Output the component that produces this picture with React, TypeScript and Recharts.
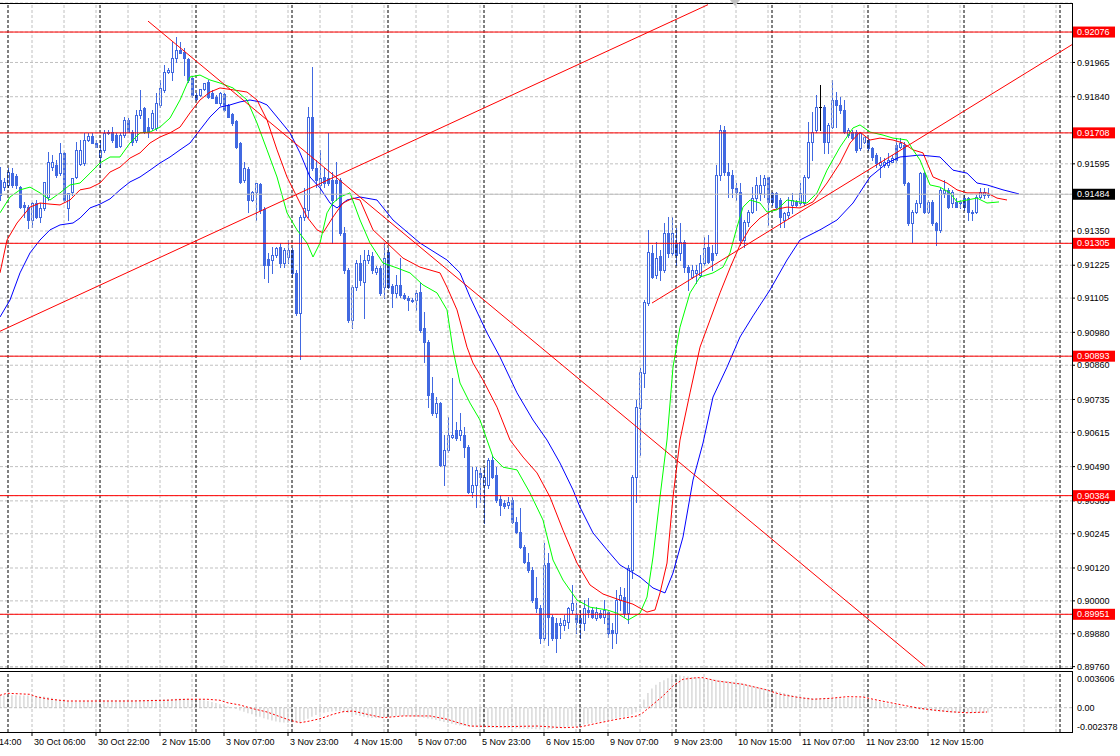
import React from "react";
import { ComposedChart, Bar, Line, XAxis, YAxis, CartesianGrid, ReferenceLine } from "recharts";

// ---------- candle data (USDCHF-like, H1) ----------
const candleOpen = [
0.91536,0.91510,0.91518,0.91561,0.91551,0.91510,0.91445,0.91437,0.91390,0.91452,
0.91401,0.91434,0.91474,0.91583,0.91591,0.91561,0.91635,0.91434,0.91492,0.91547,
0.91594,0.91598,0.91682,0.91697,0.91671,0.91620,0.91646,0.91708,0.91711,0.91700,
0.91660,0.91700,0.91755,0.91711,0.91682,0.91773,0.91799,0.91729,0.91726,0.91726,
0.91810,0.91865,0.91930,0.91930,0.91981,0.92011,0.92003,0.91978,0.91908,0.91846,
0.91846,0.91868,0.91894,0.91854,0.91839,0.91817,0.91850,0.91810,0.91777,0.91751,
0.91671,0.91536,0.91576,0.91463,0.91492,0.91521,0.91430,0.91248,0.91244,0.91262,
0.91291,0.91233,0.91255,0.91281,0.91197,0.91051,0.91401,0.91427,0.91766,0.91580,
0.91518,0.91547,0.91543,0.91536,0.91536,0.91536,0.91343,0.91208,0.91025,0.91145,
0.91233,0.91164,0.91244,0.91259,0.91200,0.91215,0.91145,0.91273,0.91149,0.91124,
0.91153,0.91116,0.91105,0.91098,0.91098,0.91127,0.90996,0.90945,0.90759,0.90686,
0.90722,0.90496,0.90551,0.90598,0.90624,0.90605,0.90605,0.90561,0.90397,0.90423,
0.90467,0.90423,0.90423,0.90514,0.90459,0.90372,0.90357,0.90350,0.90368,0.90288,
0.90251,0.90196,0.90142,0.90113,0.90010,0.89974,0.89864,0.90138,0.89941,0.89919,
0.89912,0.89912,0.89923,0.89967,0.89948,0.89937,0.89919,0.89967,0.89967,0.89937,
0.89955,0.89941,0.89959,0.89894,0.89882,0.90003,0.90014,0.89955,0.90113,0.90452,
0.90704,0.90832,0.91087,0.91270,0.91189,0.91259,0.91208,0.91343,0.91270,0.91306,
0.91270,0.91310,0.91218,0.91182,0.91197,0.91189,0.91233,0.91291,0.91270,0.91270,
0.91554,0.91719,0.91565,0.91554,0.91507,0.91492,0.91317,0.91383,0.91419,0.91470,
0.91489,0.91518,0.91547,0.91489,0.91489,0.91463,0.91390,0.91408,0.91445,0.91456,
0.91452,0.91452,0.91547,0.91675,0.91719,0.91802,0.91802,0.91675,0.91729,0.91828,
0.91810,0.91792,0.91700,0.91711,0.91711,0.91653,0.91675,0.91682,0.91653,0.91627,
0.91591,0.91591,0.91591,0.91602,0.91664,0.91656,0.91664,0.91525,0.91379,0.91419,
0.91452,0.91561,0.91419,0.91456,0.91379,0.91354,0.91489,0.91500,0.91452,0.91456,
0.91452,0.91470,0.91470,0.91419,0.91419,0.91474,0.91481,0.91481];
const candleHigh = [
0.91583,0.91543,0.91580,0.91580,0.91558,0.91514,0.91456,0.91445,0.91456,0.91463,
0.91452,0.91529,0.91638,0.91627,0.91609,0.91671,0.91638,0.91489,0.91543,0.91675,
0.91682,0.91708,0.91708,0.91708,0.91682,0.91682,0.91719,0.91719,0.91729,0.91708,
0.91708,0.91766,0.91762,0.91719,0.91792,0.91865,0.91802,0.91762,0.91792,0.91854,
0.91901,0.91956,0.91945,0.92040,0.92058,0.92040,0.92018,0.91981,0.91912,0.91854,
0.91868,0.91890,0.91901,0.91865,0.91846,0.91857,0.91854,0.91813,0.91781,0.91755,
0.91675,0.91602,0.91583,0.91496,0.91525,0.91525,0.91437,0.91270,0.91291,0.91291,
0.91306,0.91288,0.91317,0.91288,0.91208,0.91408,0.91507,0.91802,0.91948,0.91609,
0.91646,0.91580,0.91708,0.91565,0.91602,0.91543,0.91364,0.91215,0.91153,0.91244,
0.91262,0.91281,0.91281,0.91273,0.91222,0.91222,0.91306,0.91288,0.91156,0.91189,
0.91251,0.91124,0.91113,0.91105,0.91135,0.91160,0.91054,0.90952,0.90817,0.90744,
0.90726,0.90605,0.90671,0.90813,0.90653,0.90686,0.90634,0.90569,0.90488,0.90488,
0.90485,0.90488,0.90521,0.90532,0.90488,0.90386,0.90368,0.90379,0.90379,0.90306,
0.90339,0.90204,0.90175,0.90123,0.90087,0.89985,0.90211,0.90175,0.89948,0.89937,
0.89937,0.89948,0.89977,0.90058,0.89992,0.89967,0.90003,0.90010,0.89974,0.89977,
0.89967,0.90003,0.89967,0.89919,0.90040,0.90050,0.90047,0.90131,0.90459,0.90733,
0.90850,0.91098,0.91354,0.91299,0.91310,0.91281,0.91379,0.91401,0.91401,0.91361,
0.91379,0.91317,0.91226,0.91226,0.91226,0.91262,0.91328,0.91335,0.91299,0.91591,
0.91737,0.91733,0.91598,0.91572,0.91525,0.91525,0.91390,0.91427,0.91510,0.91547,
0.91554,0.91554,0.91547,0.91492,0.91492,0.91470,0.91419,0.91474,0.91489,0.91463,
0.91525,0.91554,0.91748,0.91784,0.91846,0.91883,0.91810,0.91744,0.91901,0.91857,
0.91839,0.91828,0.91726,0.91719,0.91719,0.91711,0.91693,0.91689,0.91656,0.91635,
0.91620,0.91616,0.91635,0.91627,0.91689,0.91689,0.91675,0.91529,0.91427,0.91463,
0.91565,0.91565,0.91463,0.91463,0.91383,0.91507,0.91536,0.91507,0.91500,0.91470,
0.91463,0.91481,0.91474,0.91427,0.91481,0.91507,0.91507,0.91507];
const candleLow = [
0.91463,0.91500,0.91510,0.91510,0.91507,0.91434,0.91401,0.91361,0.91364,0.91397,
0.91383,0.91427,0.91463,0.91572,0.91547,0.91554,0.91456,0.91390,0.91481,0.91543,
0.91591,0.91591,0.91678,0.91671,0.91656,0.91583,0.91638,0.91704,0.91675,0.91656,
0.91656,0.91693,0.91711,0.91664,0.91675,0.91762,0.91708,0.91693,0.91719,0.91719,
0.91802,0.91857,0.91927,0.91901,0.91967,0.92000,0.91919,0.91894,0.91839,0.91828,
0.91843,0.91865,0.91835,0.91835,0.91817,0.91810,0.91788,0.91766,0.91737,0.91653,
0.91525,0.91529,0.91419,0.91459,0.91390,0.91416,0.91178,0.91164,0.91197,0.91255,
0.91218,0.91218,0.91233,0.91182,0.91043,0.90883,0.91390,0.91401,0.91572,0.91510,
0.91489,0.91510,0.91518,0.91306,0.91463,0.91335,0.91197,0.91018,0.90996,0.91135,
0.91153,0.91032,0.91233,0.91197,0.91193,0.91116,0.91105,0.91142,0.91072,0.91109,
0.91109,0.91102,0.91062,0.91091,0.91062,0.90981,0.90872,0.90707,0.90678,0.90671,
0.90492,0.90423,0.90543,0.90594,0.90587,0.90587,0.90525,0.90394,0.90379,0.90342,
0.90361,0.90284,0.90412,0.90448,0.90361,0.90313,0.90339,0.90339,0.90284,0.90248,
0.90193,0.90138,0.90105,0.89996,0.89959,0.89846,0.89857,0.89839,0.89857,0.89813,
0.89864,0.89894,0.89901,0.89955,0.89882,0.89864,0.89894,0.89941,0.89937,0.89930,
0.89937,0.89919,0.89868,0.89828,0.89846,0.89967,0.89941,0.89919,0.90083,0.90361,
0.90532,0.90780,0.91080,0.91178,0.91178,0.91171,0.91200,0.91255,0.91262,0.91226,
0.91244,0.91200,0.91135,0.91178,0.91160,0.91182,0.91226,0.91233,0.91208,0.91262,
0.91536,0.91554,0.91474,0.91474,0.91463,0.91299,0.91291,0.91368,0.91416,0.91427,
0.91463,0.91474,0.91372,0.91445,0.91434,0.91364,0.91364,0.91397,0.91416,0.91441,
0.91445,0.91445,0.91543,0.91609,0.91711,0.91719,0.91635,0.91635,0.91726,0.91729,
0.91781,0.91708,0.91693,0.91686,0.91638,0.91646,0.91671,0.91646,0.91609,0.91583,
0.91547,0.91583,0.91583,0.91602,0.91602,0.91653,0.91518,0.91372,0.91310,0.91416,
0.91437,0.91416,0.91416,0.91372,0.91299,0.91346,0.91474,0.91434,0.91437,0.91437,
0.91434,0.91427,0.91390,0.91390,0.91416,0.91470,0.91470,0.91474];
const candleClose = [
0.91481,0.91529,0.91565,0.91518,0.91518,0.91437,0.91437,0.91390,0.91452,0.91401,
0.91434,0.91529,0.91602,0.91602,0.91554,0.91635,0.91463,0.91489,0.91543,0.91646,
0.91646,0.91682,0.91697,0.91671,0.91656,0.91646,0.91708,0.91711,0.91682,0.91656,
0.91700,0.91755,0.91711,0.91675,0.91773,0.91792,0.91711,0.91711,0.91781,0.91817,
0.91872,0.91930,0.91938,0.91981,0.92011,0.92000,0.91981,0.91901,0.91846,0.91832,
0.91868,0.91890,0.91839,0.91835,0.91817,0.91854,0.91792,0.91766,0.91744,0.91656,
0.91529,0.91580,0.91463,0.91492,0.91525,0.91427,0.91226,0.91226,0.91262,0.91288,
0.91233,0.91281,0.91281,0.91197,0.91051,0.91401,0.91434,0.91766,0.91580,0.91536,
0.91543,0.91525,0.91525,0.91463,0.91525,0.91343,0.91208,0.91025,0.91145,0.91233,
0.91171,0.91244,0.91262,0.91208,0.91215,0.91124,0.91251,0.91145,0.91124,0.91153,
0.91116,0.91105,0.91098,0.91094,0.91124,0.90989,0.90945,0.90751,0.90686,0.90722,
0.90496,0.90551,0.90605,0.90605,0.90594,0.90624,0.90561,0.90397,0.90423,0.90478,
0.90452,0.90452,0.90514,0.90452,0.90368,0.90350,0.90346,0.90361,0.90288,0.90251,
0.90196,0.90142,0.90113,0.90003,0.89974,0.89864,0.90131,0.89941,0.89864,0.89864,
0.89919,0.89930,0.89974,0.89992,0.89923,0.89919,0.89974,0.89959,0.89941,0.89959,
0.89941,0.89967,0.89882,0.89882,0.90003,0.90021,0.89955,0.90120,0.90452,0.90707,
0.90835,0.91091,0.91273,0.91182,0.91251,0.91208,0.91343,0.91270,0.91343,0.91262,
0.91310,0.91218,0.91200,0.91208,0.91208,0.91233,0.91288,0.91237,0.91244,0.91554,
0.91719,0.91565,0.91554,0.91507,0.91492,0.91317,0.91383,0.91419,0.91470,0.91518,
0.91518,0.91543,0.91456,0.91456,0.91437,0.91401,0.91416,0.91419,0.91463,0.91445,
0.91489,0.91547,0.91675,0.91711,0.91802,0.91802,0.91675,0.91737,0.91828,0.91810,
0.91792,0.91711,0.91719,0.91689,0.91646,0.91708,0.91693,0.91653,0.91620,0.91598,
0.91602,0.91602,0.91609,0.91616,0.91609,0.91671,0.91525,0.91379,0.91419,0.91452,
0.91561,0.91419,0.91456,0.91379,0.91354,0.91500,0.91500,0.91437,0.91492,0.91437,
0.91456,0.91437,0.91419,0.91416,0.91474,0.91492,0.91492,0.91484];

// ---------- Alligator (jaw / teeth / lips), shifted forward ----------
const jawIdx = [0,2.5,5,7.5,10,12.5,15,18.25,20,22.5,25,27.5,30,32.5,35,37.5,40,42.5,45,47.5,50,52.5,55,57.5,60,62.5,65,66.75,69.25,72.5,75,77.5,80,82.5,84.25,86.75,90,94.25,98.25,105,111.75,115,117.5,121.75,125,129.25,133.25,136.75,140,143.25,145,148.25,151.75,155,160,163.25,166.25,168.25,170.75,173.25,175.75,178.25,181.75,185,188.25,192.5,196.75,200,205,209.25,213.25,217.5,221.75,225,230,235,238.25,241.75,244.25,246.75,250.75,254.75];
const jawVal = [0.91036,0.91098,0.91197,0.9127,0.91317,0.91354,0.91372,0.91379,0.91397,0.91434,0.91448,0.91467,0.915,0.91529,0.91547,0.91572,0.91598,0.9162,0.91646,0.91671,0.91719,0.91766,0.91802,0.9181,0.91821,0.91828,0.91821,0.9181,0.91766,0.91708,0.91635,0.91547,0.91507,0.91452,0.91434,0.91463,0.91474,0.91463,0.9139,0.91306,0.91244,0.91197,0.91109,0.90978,0.9089,0.90759,0.9066,0.90587,0.90503,0.90405,0.90342,0.90248,0.90186,0.90131,0.90087,0.90047,0.90029,0.90102,0.90233,0.90441,0.90576,0.90744,0.90853,0.90963,0.9104,0.91135,0.91244,0.91317,0.91354,0.9139,0.91452,0.91547,0.91598,0.9162,0.91627,0.9162,0.91572,0.91561,0.91525,0.91518,0.915,0.91485];
const teethIdx = [0,1.75,4.25,7.5,10,12.5,15,17.5,20,22.5,25,27.5,30,32.5,35,37.5,40,42.5,45,47.5,50,52.5,55,58.25,61.75,64.25,66.75,69.25,71.75,74.25,76.75,79.25,80.75,83.25,85.75,88.25,90,93.25,96.75,100.75,105,110,111.75,114.25,116.75,118.25,120.75,124.25,127.5,130.75,134.25,137.5,140.75,144.25,147.5,150.75,155,158.25,161.75,163.75,165,166.75,168.25,170,172.5,175,177.5,180,182.5,185,187.5,190,193.25,196.75,200,203.25,206.75,210,212.5,215,217.5,220,223.25,225.75,228.25,230.75,233.25,236.75,239.25,241.75,246.75,249.25,251.75];
const teethVal = [0.91197,0.91317,0.91379,0.91437,0.91452,0.91448,0.91445,0.91463,0.915,0.91507,0.91525,0.91565,0.91583,0.91616,0.91635,0.91671,0.91693,0.91708,0.91729,0.91781,0.91828,0.91857,0.91872,0.91865,0.91857,0.91828,0.91755,0.91646,0.91547,0.91474,0.91401,0.91354,0.91343,0.91401,0.91452,0.9147,0.91463,0.91354,0.91306,0.91251,0.91218,0.91197,0.91145,0.91062,0.90926,0.90868,0.90806,0.90707,0.90587,0.90525,0.90467,0.90379,0.90258,0.90138,0.90058,0.90025,0.90003,0.89988,0.89959,0.89967,0.90029,0.90138,0.90379,0.90587,0.90759,0.90926,0.91025,0.91124,0.91215,0.91299,0.91361,0.91397,0.91427,0.91437,0.91434,0.91456,0.91525,0.91598,0.91671,0.91711,0.91682,0.91689,0.91682,0.91671,0.91646,0.91635,0.91547,0.91525,0.915,0.91489,0.91489,0.9147,0.91463];
const lipsIdx = [0,2.5,5,7.5,10,12.5,15,17.5,20,22.5,25,27.5,30,32.5,35,37.5,40,42.5,45,47.5,50,52.5,55,58.25,61.75,64.25,66.75,69.25,71.75,74.25,76.75,78.25,80,81.75,83.25,85,87.5,90,92.5,95.75,99.25,102.5,105.75,109.25,111.75,113.25,115,117.5,120,123.25,125.75,129.25,132.5,135.75,138.25,140.75,144.25,147.5,151.75,154.25,157,160,161.75,163.25,165,166.75,168.25,170,172.5,175,178.25,180.75,182.5,184.25,185.75,187.5,190,191.75,194.25,196.75,201.75,204.25,206.75,210,213.25,215,217.5,220.75,223.25,226.75,228.25,230,232.5,235,237.5,239.25,241.75,244.25,246.75,249.75];
const lipsVal = [0.91416,0.91474,0.915,0.9151,0.91489,0.91463,0.91489,0.91518,0.91525,0.91561,0.91598,0.9162,0.9162,0.91671,0.91708,0.91711,0.91729,0.91762,0.91828,0.91912,0.91919,0.91901,0.9189,0.91872,0.91828,0.91744,0.91646,0.91547,0.91416,0.91354,0.91306,0.91255,0.91306,0.91416,0.91452,0.91474,0.91489,0.9139,0.91306,0.91233,0.91215,0.91197,0.91153,0.91124,0.91062,0.90916,0.90795,0.90722,0.9066,0.90525,0.90488,0.90478,0.90394,0.90295,0.90149,0.90076,0.90003,0.89977,0.89967,0.89955,0.8993,0.89955,0.90014,0.9016,0.90379,0.90587,0.90853,0.90999,0.91124,0.91182,0.91197,0.91218,0.9127,0.91364,0.91437,0.91463,0.91452,0.91419,0.91427,0.91463,0.91452,0.91489,0.91572,0.91656,0.91726,0.91737,0.91711,0.917,0.91689,0.91682,0.91646,0.91609,0.91518,0.9151,0.91489,0.91456,0.91463,0.9147,0.91452,0.91456];

// ---------- MACD ----------
const macdHist = [
0.0013,0.00132,0.00134,0.00135,0.00135,0.00134,0.00133,0.00132,0.0013,0.00128,0.00126,0.00122,0.00116,0.00108,0.00095,
0.00084,0.00076,0.00071,0.00069,0.0007,0.00071,0.00072,0.00072,0.00073,0.00074,0.00075,
0.00076,0.00077,0.00078,0.00079,0.0008,0.0008,0.00081,0.00082,0.00082,0.00083,
0.00084,0.00085,0.00086,0.00088,0.0009,0.00092,0.00094,0.00096,0.00098,0.001,
0.001,0.00098,0.00095,0.0009,0.00085,0.0008,0.00072,
0.00062,0.0005,0.00038,0.00025,0.00012,0.00002,
-0.00015,-0.0003,-0.00045,-0.0006,-0.00072,-0.00085,-0.001,-0.00115,-0.0013,-0.0014,-0.0015,
-0.00158,-0.00162,-0.00165,-0.00165,-0.00162,-0.00155,
-0.0014,-0.0012,-0.001,-0.0008,-0.00065,
-0.00055,-0.00048,-0.00042,-0.0004,-0.0004,-0.00045,-0.00055,
-0.00068,-0.0008,-0.0009,-0.001,-0.00108,-0.00112,-0.00112,-0.0011,
-0.00105,-0.001,-0.00095,-0.00092,-0.0009,-0.0009,-0.00092,-0.00095,-0.001,-0.00105,-0.0011,-0.00118,-0.00125,
-0.00135,-0.00145,-0.00155,-0.00165,-0.00175,-0.00185,-0.00195,-0.002,-0.00205,-0.0021,
-0.00212,-0.00215,-0.00218,-0.0022,-0.0022,-0.00222,-0.00222,-0.00223,-0.00224,-0.00225,-0.00226,-0.00227,-0.00228,-0.0023,-0.00232,-0.00235,-0.00237,-0.002378,-0.00236,-0.00232,-0.00226,-0.0022,-0.00214,-0.00208,-0.00202,
-0.00196,-0.0019,-0.00182,-0.00175,-0.00166,-0.00158,-0.0015,-0.00142,-0.00133,-0.00125,-0.00116,-0.00108,-0.001,-0.00092,-0.00075,-0.0005,
0.0002,0.0009,0.0016,0.0021,0.0025,0.0028,0.003,0.0032,0.00342,0.003606,
0.0035,0.00345,0.0034,0.00335,0.0033,0.00325,0.0032,0.00315,0.0031,0.00305,
0.003,0.00295,0.0029,0.00285,0.0028,0.00272,0.00262,0.0025,0.0024,0.0023,
0.0022,0.0021,0.002,0.0019,0.0018,0.0017,0.0016,0.0015,0.00138,0.0013,
0.00122,0.00115,0.0011,0.00106,0.00104,0.00104,0.00105,0.00106,0.00106,0.00105,
0.00104,0.00104,0.00105,0.00106,0.00106,0.00104,0.001,
0.00093,0.00085,0.00076,0.00066,0.00056,0.00046,0.00036,0.00026,0.00017,0.00008,0.0,-0.00008,-0.00015,
-0.0002,-0.00025,-0.0003,-0.00035,-0.0004,-0.00044,-0.00047,-0.0005,-0.00052,-0.00054,-0.00055,-0.00056,-0.00056,-0.00057,-0.00057,-0.00056,-0.00055,-0.00053];
const signalIdx = [0,1.75,7.5,9.25,12.5,16.75,33.25,41.75,46.75,51.75,55,56.75,60,63.25,66.75,70,72.5,75,77.5,80,83.25,85.75,88.25,91.75,95.75,100.75,107.5,111.75,115,117.5,125.75,134.25,140.75,145,149.25,154.25,159.25,160.75,163.25,165.75,168.25,170.75,174.25,175.75,179.25,182.5,185.75,188.25,191.75,195,200,203.25,207.5,211.75,215.75,218.25,221.75,226.75,230,233.25,237.5,241.75,246.75];
const signalVal = [0.00135,0.00157,0.00146,0.00117,0.00092,0.00073,0.00073,0.00081,0.00092,0.00092,0.00081,0.00055,0.00029,-0.00011,-0.00047,-0.00098,-0.00137,-0.00164,-0.00145,-0.0012,-0.00072,-0.00044,-0.00036,-0.00072,-0.00109,-0.0009,-0.0009,-0.00126,-0.0017,-0.002,-0.00207,-0.002,-0.00218,-0.0021,-0.0017,-0.00126,-0.0009,-0.00055,0.00037,0.00128,0.00237,0.0031,0.00327,0.00327,0.00291,0.00273,0.00255,0.00229,0.00193,0.00146,0.00109,0.00092,0.00102,0.0012,0.00117,0.00092,0.00062,0.00019,-0.00007,-0.00025,-0.00044,-0.00055,-0.00047];

// ---------- levels, trend lines, ticks ----------
const levelPrices = [0.92076, 0.91708, 0.91305, 0.90893, 0.90384, 0.89951];
const currentPrice = 0.91484;
const priceTicks = [0.91965, 0.9184, 0.91595, 0.9135, 0.91225, 0.91105, 0.9098, 0.9086, 0.90735, 0.90615, 0.9049, 0.90365, 0.90245, 0.9012, 0.9, 0.8988, 0.8976];
const trendStartIdx = [0, 37, 163];
const trendStartVal = [0.90984, 0.92116, 0.91087];
const trendEndIdx = [177, 231.25, 268];
const trendEndVal = [0.92176, 0.89761, 0.9203];
const macdTicks = [0.003606, 0, -0.002378];
const macdTickLabels = ["0.003606", "0.00", "-0.002378"];
const timeTickIdx = [-8, 8, 24, 40, 56, 72, 88, 104, 120, 136, 152, 168, 184, 200, 216, 232];
const timeLabels = ["29 Oct 14:00", "30 Oct 06:00", "30 Oct 22:00", "2 Nov 15:00", "3 Nov 07:00", "3 Nov 23:00", "4 Nov 15:00", "5 Nov 07:00", "5 Nov 23:00", "6 Nov 15:00", "9 Nov 07:00", "9 Nov 23:00", "10 Nov 15:00", "11 Nov 07:00", "11 Nov 23:00", "12 Nov 15:00"];
const gridIdx = [8, 16, 24, 32, 40, 48, 56, 64, 72, 80, 88, 96, 104, 112, 120, 128, 136, 144, 152, 160, 168, 176, 184, 192, 200, 208, 216, 224, 232, 240, 248, 256, 264];
const separatorIdx = [2, 25, 49, 73, 97, 121, 145, 169, 193, 217, 241, 265];

const X_DOMAIN: [number, number] = [0, 268];
const PRICE_DOMAIN: [number, number] = [0.89755, 0.92182];
const MACD_DOMAIN: [number, number] = [-0.00265, 0.004];

const BLUE = "#4169e1";
const FONT = "'Liberation Sans', Arial, sans-serif";

const candles = candleOpen.map((o, i) => ({
  i, o, h: candleHigh[i], l: candleLow[i], c: candleClose[i],
  range: [candleLow[i], candleHigh[i]],
}));
const macdRows = macdHist.map((h, i) => ({ i, h }));
const toSeries = (idx: number[], val: number[]) => idx.map((i, k) => ({ i, v: val[k] }));
const jawData = toSeries(jawIdx, jawVal);
const teethData = toSeries(teethIdx, teethVal);
const lipsData = toSeries(lipsIdx, lipsVal);
const signalData = toSeries(signalIdx, signalVal);

function CandleShape(props: any) {
  const { x, y, width, height, payload } = props;
  if (!payload || x == null || y == null || height == null) return <g />;
  const { o, h, l, c } = payload;
  const yTop = Math.min(y, y + height);
  const yBot = Math.max(y, y + height);
  const k = h > l ? (yBot - yTop) / (h - l) : 0;
  const toY = (v: number) => yTop + (h - v) * k;
  const cx = Math.round(x + width / 2);
  const wx = cx + 0.5;
  const hi = Math.round(yTop);
  const lo = Math.round(yBot);
  if (o === c) {
    const yy = Math.round(toY(o)) + 0.5;
    return (
      <g>
        <line x1={wx} x2={wx} y1={hi} y2={lo + 1} stroke="#000" />
        <line x1={cx - 1} x2={cx + 2} y1={yy} y2={yy} stroke="#000" />
      </g>
    );
  }
  const bt = Math.round(toY(Math.max(o, c)));
  const bb = Math.round(toY(Math.min(o, c)));
  if (c > o) {
    return (
      <g>
        <line x1={wx} x2={wx} y1={hi} y2={lo + 1} stroke={BLUE} />
        <rect x={cx - 0.5} y={bt + 0.5} width={2} height={Math.max(bb - bt, 1)} fill="#fff" stroke={BLUE} />
      </g>
    );
  }
  return (
    <g>
      <line x1={wx} x2={wx} y1={hi} y2={lo + 1} stroke={BLUE} />
      <rect x={cx - 1} y={bt} width={3} height={Math.max(bb - bt + 1, 1)} fill={BLUE} />
    </g>
  );
}

function PriceTick(props: any) {
  const { x, y, payload } = props;
  const v = payload.value as number;
  const label = v.toFixed(5);
  const isLevel = levelPrices.indexOf(v) >= 0;
  const isCur = v === currentPrice;
  if (isLevel || isCur) {
    return (
      <g>
        <rect x={x - 4} y={y - 5.5} width={42} height={11} fill={isCur ? "#000" : "#ff0000"} />
        <text x={x} y={y} dy={3.2} fill="#fff" fontSize={9} fontFamily={FONT}>{label}</text>
      </g>
    );
  }
  return <text x={x} y={y} dy={3.2} fill="#000" fontSize={9} fontFamily={FONT}>{label}</text>;
}

function MacdTick(props: any) {
  const { x, y, payload } = props;
  const k = macdTicks.indexOf(payload.value);
  const off = k === 0 ? 4.5 : k === 2 ? -3 : 0;
  return <text x={x} y={y + off} dy={3.2} fill="#000" fontSize={9} fontFamily={FONT}>{macdTickLabels[k]}</text>;
}

function TimeTick(props: any) {
  const { x, y, payload } = props;
  const k = timeTickIdx.indexOf(payload.value);
  if (k < 0) return <g />;
  return <text x={x + 2} y={y} dy={6.5} fill="#000" fontSize={9} fontFamily={FONT}>{timeLabels[k]}</text>;
}

export default function App() {
  return (
    <div style={{ position: "absolute", left: 0, top: 0, width: 1120, height: 756, background: "#fff", overflow: "hidden" }}>
      <div style={{ position: "absolute", left: 0, top: 0 }}>
        <ComposedChart width={1120} height={673} data={candles} margin={{ top: 3, right: 0, bottom: 5, left: 0 }}>
          <CartesianGrid vertical={false} stroke="#c0c0c0" strokeDasharray="3 2" />
          <XAxis dataKey="i" type="number" domain={X_DOMAIN} hide allowDataOverflow />
          <YAxis
            orientation="right"
            width={48}
            domain={PRICE_DOMAIN}
            allowDataOverflow
            ticks={[...priceTicks, ...levelPrices, currentPrice]}
            interval={0}
            axisLine={false}
            tickLine={{ stroke: "#000" }}
            tickSize={3}
            tickMargin={2}
            tick={<PriceTick />}
          />
          {gridIdx.map((g) => (
            <ReferenceLine key={"g" + g} x={g} stroke="#c0c0c0" strokeDasharray="3 2" />
          ))}
          {separatorIdx.map((s) => (
            <ReferenceLine key={"s" + s} x={s} stroke="#000" strokeDasharray="3 2" />
          ))}
          <Bar dataKey="range" barSize={3} shape={<CandleShape />} isAnimationActive={false} />
          <Line data={jawData} dataKey="v" type="linear" stroke="#0000ff" strokeWidth={1} dot={false} activeDot={false} isAnimationActive={false} />
          <Line data={teethData} dataKey="v" type="linear" stroke="#ff0000" strokeWidth={1} dot={false} activeDot={false} isAnimationActive={false} />
          <Line data={lipsData} dataKey="v" type="linear" stroke="#00ff00" strokeWidth={1} dot={false} activeDot={false} isAnimationActive={false} />
          <ReferenceLine y={currentPrice} stroke="#c0c0c0" />
          {levelPrices.map((p) => (
            <ReferenceLine key={"l" + p} y={p} stroke="#ff0000" />
          ))}
          {trendStartIdx.map((s, k) => (
            <ReferenceLine
              key={"t" + k}
              ifOverflow="hidden"
              segment={[{ x: s, y: trendStartVal[k] }, { x: trendEndIdx[k], y: trendEndVal[k] }]}
              stroke="#ff0000"
            />
          ))}
        </ComposedChart>
      </div>
      <div style={{ position: "absolute", left: 0, top: 671 }}>
        <ComposedChart width={1120} height={85} data={macdRows} margin={{ top: 0, right: 0, bottom: 0, left: 0 }}>
          <XAxis
            dataKey="i"
            type="number"
            domain={X_DOMAIN}
            allowDataOverflow
            ticks={timeTickIdx}
            interval={0}
            height={24}
            axisLine={false}
            tickLine={{ stroke: "#000" }}
            tickSize={4}
            tickMargin={2}
            tick={<TimeTick />}
          />
          <YAxis
            orientation="right"
            width={48}
            domain={MACD_DOMAIN}
            allowDataOverflow
            ticks={macdTicks}
            interval={0}
            axisLine={false}
            tickLine={false}
            tickSize={3}
            tickMargin={2}
            tick={<MacdTick />}
          />
          {gridIdx.map((g) => (
            <ReferenceLine key={"mg" + g} x={g} stroke="#c0c0c0" strokeDasharray="3 2" />
          ))}
          {separatorIdx.map((s) => (
            <ReferenceLine key={"ms" + s} x={s} stroke="#000" strokeDasharray="3 2" />
          ))}
          <ReferenceLine y={0} stroke="#c0c0c0" strokeDasharray="3 2" />
          <Bar dataKey="h" barSize={2} fill="#c0c0c0" isAnimationActive={false} />
          <Line data={signalData} dataKey="v" type="linear" stroke="#ff0000" strokeDasharray="2 2" strokeWidth={1} dot={false} activeDot={false} isAnimationActive={false} />
        </ComposedChart>
      </div>
      <div style={{ position: "absolute", left: -1, top: 3, width: 1074, height: 666, boxSizing: "border-box", border: "1px solid #000", pointerEvents: "none" }} />
      <div style={{ position: "absolute", left: -1, top: 671, width: 1074, height: 62, boxSizing: "border-box", border: "1px solid #000", pointerEvents: "none" }} />
      <svg style={{ position: "absolute", left: 730, top: 0 }} width={11} height={8}>
        <polygon points="0,0 10,0 5,6" fill="#c0c0c0" />
      </svg>
    </div>
  );
}
